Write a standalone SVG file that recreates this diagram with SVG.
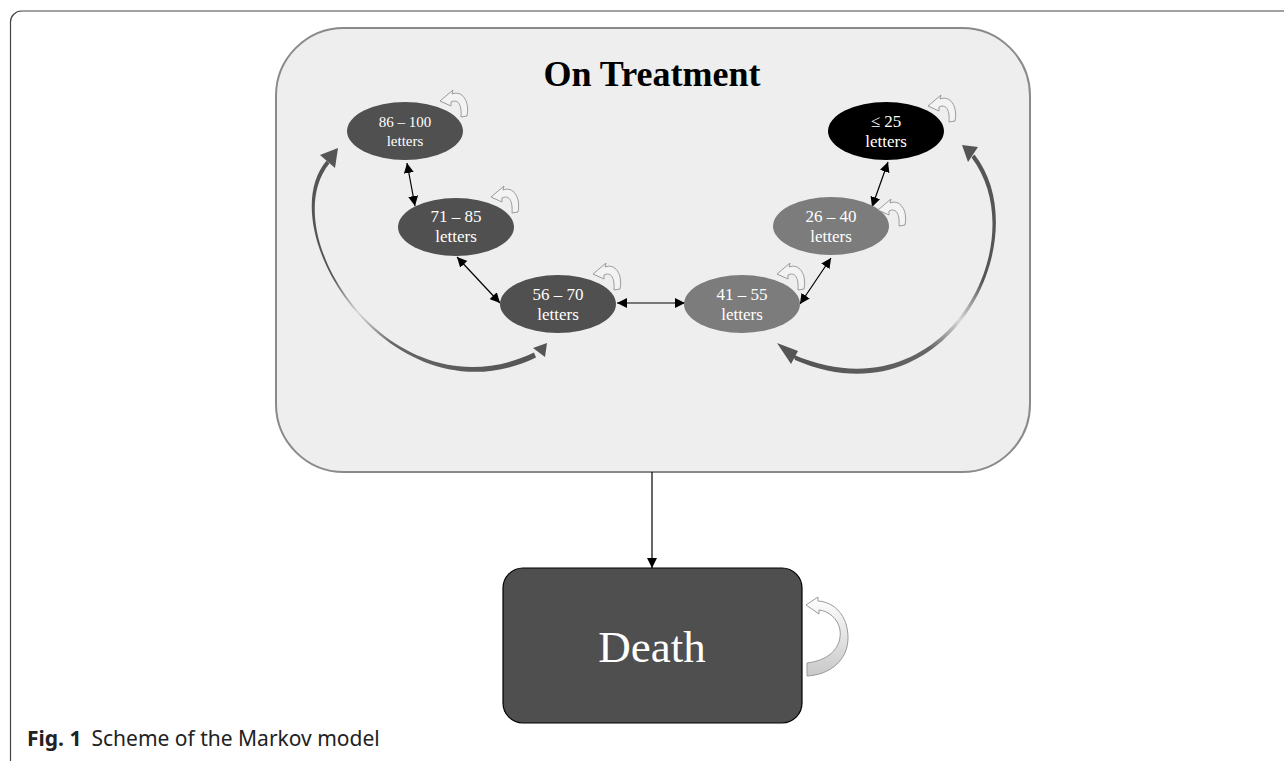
<svg xmlns="http://www.w3.org/2000/svg" width="1284" height="761" viewBox="0 0 1284 761">
<style>
.node text{font-family:"Liberation Serif","Times New Roman",serif;fill:#ffffff;text-anchor:middle}
.dbl{stroke:#000;stroke-width:1.2;fill:none;marker-start:url(#ah);marker-end:url(#ah)}
.loop{fill:#f3f3f3;stroke:#9a9a9a;stroke-width:1}
.big{stroke:none}
.bighead{fill:#555555}
</style>
<defs>
<marker id="ah" viewBox="0 0 10 10" refX="10" refY="5" markerWidth="10" markerHeight="10" markerUnits="userSpaceOnUse" orient="auto-start-reverse">
<path d="M0,0 L10,5 L0,10 Z" fill="#000"/>
</marker>
<path id="selfloop" class="loop" d="M62,-15 C65,-30 57,-41 47,-37 L48,-41 L35,-30 L46,-25 L46,-29 C52,-32 57,-28 56,-14 Z"/>
<linearGradient id="gL" gradientUnits="userSpaceOnUse" x1="334" y1="162" x2="538" y2="352">
<stop offset="0" stop-color="#555"/><stop offset="0.28" stop-color="#555"/><stop offset="0.43" stop-color="#d8d8d8"/><stop offset="0.6" stop-color="#666"/><stop offset="1" stop-color="#555"/>
</linearGradient>
<linearGradient id="gR" gradientUnits="userSpaceOnUse" x1="973" y1="156" x2="794" y2="357">
<stop offset="0" stop-color="#555"/><stop offset="0.32" stop-color="#555"/><stop offset="0.49" stop-color="#d8d8d8"/><stop offset="0.64" stop-color="#666"/><stop offset="1" stop-color="#555"/>
</linearGradient>
<linearGradient id="gD" x1="0" y1="0" x2="0" y2="1">
<stop offset="0" stop-color="#ffffff"/><stop offset="1" stop-color="#c8c8c8"/>
</linearGradient>
</defs>
<rect width="1284" height="761" fill="#ffffff"/>
<path d="M10.5,761 L10.5,22 A11,11 0 0 1 21.5,11 L1284,11" fill="none" stroke="#444" stroke-width="1.2"/>
<g id="on-treatment">
<rect x="276" y="28" width="754" height="444" rx="68" ry="68" fill="#eeeeee" stroke="#8a8a8a" stroke-width="2"/>
<text x="652" y="86" font-family="'Liberation Serif','Times New Roman',serif" font-weight="bold" font-size="36" text-anchor="middle" fill="#000">On Treatment</text>
</g>
<g id="connectors">
<line class="dbl" x1="407" y1="163" x2="415" y2="206"/>
<line class="dbl" x1="457" y1="257" x2="500" y2="303"/>
<line class="dbl" x1="617" y1="303" x2="685" y2="303"/>
<line class="dbl" x1="800" y1="304" x2="831" y2="258"/>
<line class="dbl" x1="888" y1="162" x2="872" y2="207"/>
<path class="big" fill="url(#gL)" d="M326.6,160.6 C268,230 392,426 536,357.5 L534,352.5 C392,420 272,234 329.4,163.4 Z"/>
<path class="bighead" d="M338,148 L320,155 L335,168 Z"/>
<path class="bighead" d="M547,343 L533,348 L545,357 Z"/>
<path class="big" fill="url(#gR)" d="M974.5,154.6 C1040,238 948,426 795,360 L793,354.5 C945,420 1036,242 971.5,157.4 Z"/>
<path class="bighead" d="M962,145 L978,147 L968,162 Z"/>
<path class="bighead" d="M777,343 L791,364 L798,351 Z"/>
<line x1="652" y1="472" x2="652" y2="568" stroke="#000" stroke-width="1.2" marker-end="url(#ah)"/>
</g>
<g id="n86-100" class="node">
<ellipse cx="405" cy="131" rx="58" ry="29" fill="#505050"/>
<use href="#selfloop" transform="translate(405,131)"/>
<text x="405" y="127" font-size="15">86 – 100</text>
<text x="405" y="146" font-size="15">letters</text>
</g>
<g id="n71-85" class="node">
<ellipse cx="456" cy="227" rx="58" ry="29" fill="#505050"/>
<use href="#selfloop" transform="translate(456,227)"/>
<text x="456" y="222" font-size="17">71 – 85</text>
<text x="456" y="242" font-size="17">letters</text>
</g>
<g id="n56-70" class="node">
<ellipse cx="558" cy="304" rx="58" ry="29" fill="#505050"/>
<use href="#selfloop" transform="translate(558,304)"/>
<text x="558" y="300" font-size="17">56 – 70</text>
<text x="558" y="320" font-size="17">letters</text>
</g>
<g id="n41-55" class="node">
<ellipse cx="742" cy="304" rx="58" ry="29" fill="#7c7c7c"/>
<use href="#selfloop" transform="translate(742,304)"/>
<text x="742" y="300" font-size="17">41 – 55</text>
<text x="742" y="320" font-size="17">letters</text>
</g>
<g id="n26-40" class="node">
<ellipse cx="831" cy="226" rx="58" ry="29" fill="#7c7c7c"/>
<use href="#selfloop" transform="translate(843,240)"/>
<text x="831" y="222" font-size="17">26 – 40</text>
<text x="831" y="242" font-size="17">letters</text>
</g>
<g id="n25" class="node">
<ellipse cx="886" cy="131" rx="58" ry="29" fill="#000000"/>
<use href="#selfloop" transform="translate(893,136)"/>
<text x="886" y="127" font-size="17">≤ 25</text>
<text x="886" y="147" font-size="17">letters</text>
</g>
<g id="death" class="node">
<rect x="503" y="568" width="299" height="155" rx="20" ry="20" fill="#4f4f4f" stroke="#000" stroke-width="1.2"/>
<text x="652" y="662" font-size="45">Death</text>
<path d="M807,663 C832,660 842,645 840,630 C838,618 828,611 819,610 L819,614 L806,605 L818,597 L818,601 C834,602 848,615 848,638 C848,660 830,675 807,676 Z" fill="url(#gD)" stroke="#9a9a9a" stroke-width="1"/>
</g>
<text x="27" y="746" font-family="'Noto Sans','Open Sans',sans-serif" font-size="21" fill="#222"><tspan font-weight="bold">Fig. 1</tspan><tspan dx="10">Scheme of the Markov model</tspan></text>
</svg>
